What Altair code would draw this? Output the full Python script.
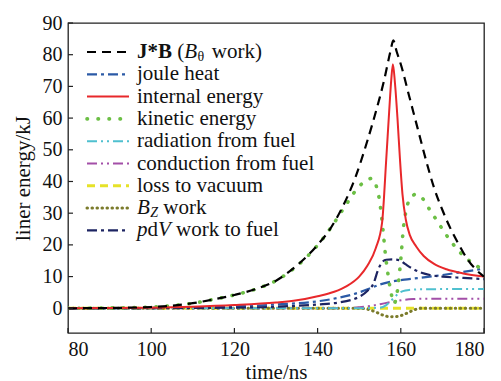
import altair as alt
import pandas as pd

# ---------------- data ----------------
jxb_t = [80, 90, 100, 105, 110, 115, 120, 125, 130, 135, 140, 143, 146, 149, 152, 154, 156, 157.5, 158.2,
         159, 160, 162, 164, 166, 168, 170, 172, 174, 176, 178, 180]
jxb_v = [0, 0.1, 0.4, 0.8, 1.6, 2.8, 4.2, 6.0, 8.7, 13.5, 20, 25, 32, 41, 53, 62, 72, 81, 84.5,
         81, 77, 67, 57, 47, 38, 31, 25, 20, 15.5, 12.3, 10]

joule_t = [80, 100, 110, 120, 130, 140, 145, 150, 153, 155, 158, 162, 166, 170, 175, 180]
joule_v = [0, 0.1, 0.3, 0.6, 1.2, 2.2, 3.3, 5.0, 6.5, 7.5, 8.5, 9.2, 9.8, 10.5, 11.5, 12.5]

int_t = [80, 100, 110, 120, 130, 135, 140, 144, 147, 150, 152, 154, 155.5, 156.5, 157.2, 157.7, 158.1,
         158.6, 159.2, 159.8, 160.4, 161.2, 162.2, 163.7, 165.5, 168, 171, 175, 180]
int_v = [0, 0.2, 0.5, 1.0, 1.8, 2.5, 3.8, 5.2, 7.0, 10, 13.5, 19, 27, 47, 62, 72, 77,
         71, 60, 47, 36, 28, 23, 19.5, 16.5, 14, 12.3, 11, 10]

kin_t = [80, 90, 100, 105, 110, 115, 120, 125, 130, 135, 138, 141, 144, 147, 150, 152, 153, 154, 155,
         155.7, 156.3, 157, 157.8, 158.4, 159, 159.6, 160.1, 160.6, 161.3, 162.5, 163.7, 165, 167, 169,
         171, 174, 177, 180]
kin_v = [0, 0.1, 0.4, 0.8, 1.6, 2.8, 4.2, 6.0, 8.7, 13.3, 17, 21.5, 27, 33, 38.5, 40.5, 41, 39, 33,
         25, 17, 10, 4, 1.5, 4, 10, 17, 25, 31, 35, 36, 35, 31, 27, 23, 18, 14.5, 12]

rad_t = [80, 150, 155, 156.5, 157.5, 158.5, 159.5, 160.5, 162, 165, 180]
rad_v = [0, 0, 0.2, 1.0, 2.2, 3.5, 4.7, 5.4, 5.8, 6.0, 6.1]

cond_t = [80, 145, 150, 153, 155, 157, 159, 161, 163, 166, 180]
cond_v = [0, 0, 0.3, 0.8, 1.3, 1.8, 2.3, 2.7, 2.9, 3.0, 3.0]

loss_t = [80, 120, 150, 160, 180]
loss_v = [0, 0, 0, 0, 0]

bz_t = [80, 150, 152, 154, 156, 157.5, 159, 160.5, 162, 163.5, 165, 180]
bz_v = [0, 0, -0.3, -1.2, -2.3, -2.7, -2.6, -2.1, -1.2, -0.4, 0, 0]

pdv_t = [80, 120, 130, 140, 145, 148, 150, 152, 153.5, 154.5, 155.5, 156.5, 158, 159.6, 161, 162.8,
         165, 167, 170, 175, 180]
pdv_v = [0, 0.2, 0.5, 1.2, 1.8, 2.6, 3.6, 5.5, 8, 12, 14.5, 15.3, 15.4, 15.2, 14, 12.5,
         11.2, 10.5, 10, 9.6, 9.2]

x_ticks = [80, 100, 120, 140, 160, 180]
y_ticks = [0, 10, 20, 30, 40, 50, 60, 70, 80, 90]

# ---------------- styles ----------------
W, H = 416, 310
FONT = "Liberation Serif"

styles = {
    "jxb":   dict(color="#000000", strokeDash=[9, 6], strokeWidth=2.2),
    "joule": dict(color="#2b5aa6", strokeDash=[10, 4, 3, 4], strokeWidth=2.2),
    "int":   dict(color="#e8282b", strokeWidth=2.0),
    "kin":   dict(color="#6cbf45", strokeDash=[0.5, 10.5], strokeWidth=3.6, strokeCap="round"),
    "rad":   dict(color="#4fc0cf", strokeDash=[10, 4, 2, 4, 2, 4], strokeWidth=2.0),
    "cond":  dict(color="#a34fa8", strokeDash=[10, 4, 2, 4, 2, 4], strokeWidth=2.0),
    "loss":  dict(color="#e6e229", strokeDash=[8, 5], strokeWidth=3.0),
    "bz":    dict(color="#7b7b2b", strokeDash=[0.5, 4.5], strokeWidth=3.0, strokeCap="round"),
    "pdv":   dict(color="#1d2462", strokeDash=[10, 4, 3, 4], strokeWidth=2.2),
}

series = {
    "jxb": (jxb_t, jxb_v), "joule": (joule_t, joule_v), "int": (int_t, int_v),
    "kin": (kin_t, kin_v), "rad": (rad_t, rad_v), "cond": (cond_t, cond_v),
    "loss": (loss_t, loss_v), "bz": (bz_t, bz_v), "pdv": (pdv_t, pdv_v),
}

x_scale = alt.Scale(domain=[80, 180], nice=False, zero=False)
y_scale = alt.Scale(domain=[-7.8, 90], nice=False, zero=False)

X = alt.X("time:Q", scale=x_scale,
          axis=alt.Axis(values=x_ticks, title="time/ns", labelPadding=6, titlePadding=2,
                        labelFont=FONT, titleFont=FONT))
Y = alt.Y("energy:Q", scale=y_scale,
          axis=alt.Axis(values=y_ticks, title="liner energy/kJ", labelPadding=6, titlePadding=9,
                        labelFont=FONT, titleFont=FONT))

layers = []
draw_order = ["loss", "bz", "cond", "rad", "joule", "pdv", "kin", "int", "jxb"]
for key in draw_order:
    t, v = series[key]
    df = pd.DataFrame({"time": t, "energy": v})
    layers.append(
        alt.Chart(df).mark_line(clip=True, interpolate="monotone", **styles[key]).encode(x=X, y=Y)
    )

# inward tick marks
xt = pd.DataFrame({"time": x_ticks})
layers.append(alt.Chart(xt).mark_rule(color="#222", strokeWidth=1.2).encode(
    x=X, y=alt.value(H), y2=alt.value(H - 5)))
yt = pd.DataFrame({"energy": y_ticks})
layers.append(alt.Chart(yt).mark_rule(color="#222", strokeWidth=1.2).encode(
    y=Y, x=alt.value(0), x2=alt.value(5)))

# ---------------- manual legend ----------------
legend_order = ["jxb", "joule", "int", "kin", "rad", "cond", "loss", "bz", "pdv"]
plain_labels = {
    "joule": "joule heat", "int": "internal energy", "kin": "kinetic energy",
    "rad": "radiation from fuel", "cond": "conduction from fuel", "loss": "loss to vacuum",
}
L_X0, L_X1, TXT_X = 87 - 68, 129 - 68, 137 - 68
ROW0, ROWSTEP = 52 - 23, 22.3
FS = 21
SP = 0.25 * FS
one = pd.DataFrame({"a": [0]})


def piece(text, x, y, size=FS, weight=None, style=None, dy=0):
    kw = dict(align="left", baseline="middle", font=FONT, fontSize=size, color="#111")
    if weight:
        kw["fontWeight"] = weight
    if style:
        kw["fontStyle"] = style
    if dy:
        kw["dy"] = dy
    return alt.Chart(pd.DataFrame({"label": [text]})).mark_text(**kw).encode(
        text="label:N", x=alt.value(x), y=alt.value(y))


for i, key in enumerate(legend_order):
    yp = ROW0 + ROWSTEP * i
    layers.append(alt.Chart(one).mark_rule(**styles[key]).encode(
        x=alt.value(L_X0), x2=alt.value(L_X1), y=alt.value(yp)))
    if key in plain_labels:
        layers.append(piece(plain_labels[key], TXT_X, yp))
    elif key == "jxb":
        x = TXT_X
        layers.append(piece("J*B", x, yp, weight="bold"))
        x += 1.667 * FS + SP
        layers.append(piece("(", x, yp))
        x += 0.333 * FS
        layers.append(piece("B", x, yp, style="italic"))
        x += 0.611 * FS + 0.5
        layers.append(piece("θ", x, yp, size=14, dy=5))
        x += 0.5 * 14 + SP + 2
        layers.append(piece("work)", x, yp))
    elif key == "bz":
        x = TXT_X
        layers.append(piece("B", x, yp, style="italic"))
        x += 0.611 * FS + 0.5
        layers.append(piece("Z", x, yp, size=14, style="italic", dy=5))
        x += 0.556 * 14 + SP
        layers.append(piece("work", x, yp))
    elif key == "pdv":
        x = TXT_X
        layers.append(piece("p", x, yp, style="italic"))
        x += 0.5 * FS
        layers.append(piece("d", x, yp))
        x += 0.5 * FS
        layers.append(piece("V", x, yp, style="italic"))
        x += 0.611 * FS + SP
        layers.append(piece("work to fuel", x, yp))

chart = alt.layer(*layers).properties(
    width=W, height=H,
    autosize=alt.AutoSizeParams(type="none"),
    padding={"left": 68, "top": 23, "right": 17, "bottom": 48},
).configure(
    font=FONT
).configure_view(
    stroke="#222", strokeWidth=1.3
).configure_axis(
    grid=False, domain=False, ticks=False, tickSize=0,
    labelFont=FONT, labelFontSize=20, labelColor="#111",
    titleFont=FONT, titleFontSize=21, titleFontWeight="normal", titleColor="#111",
).configure_text(
    font=FONT
)

chart.save("out.html", embed_options={"renderer": "svg", "actions": False})
